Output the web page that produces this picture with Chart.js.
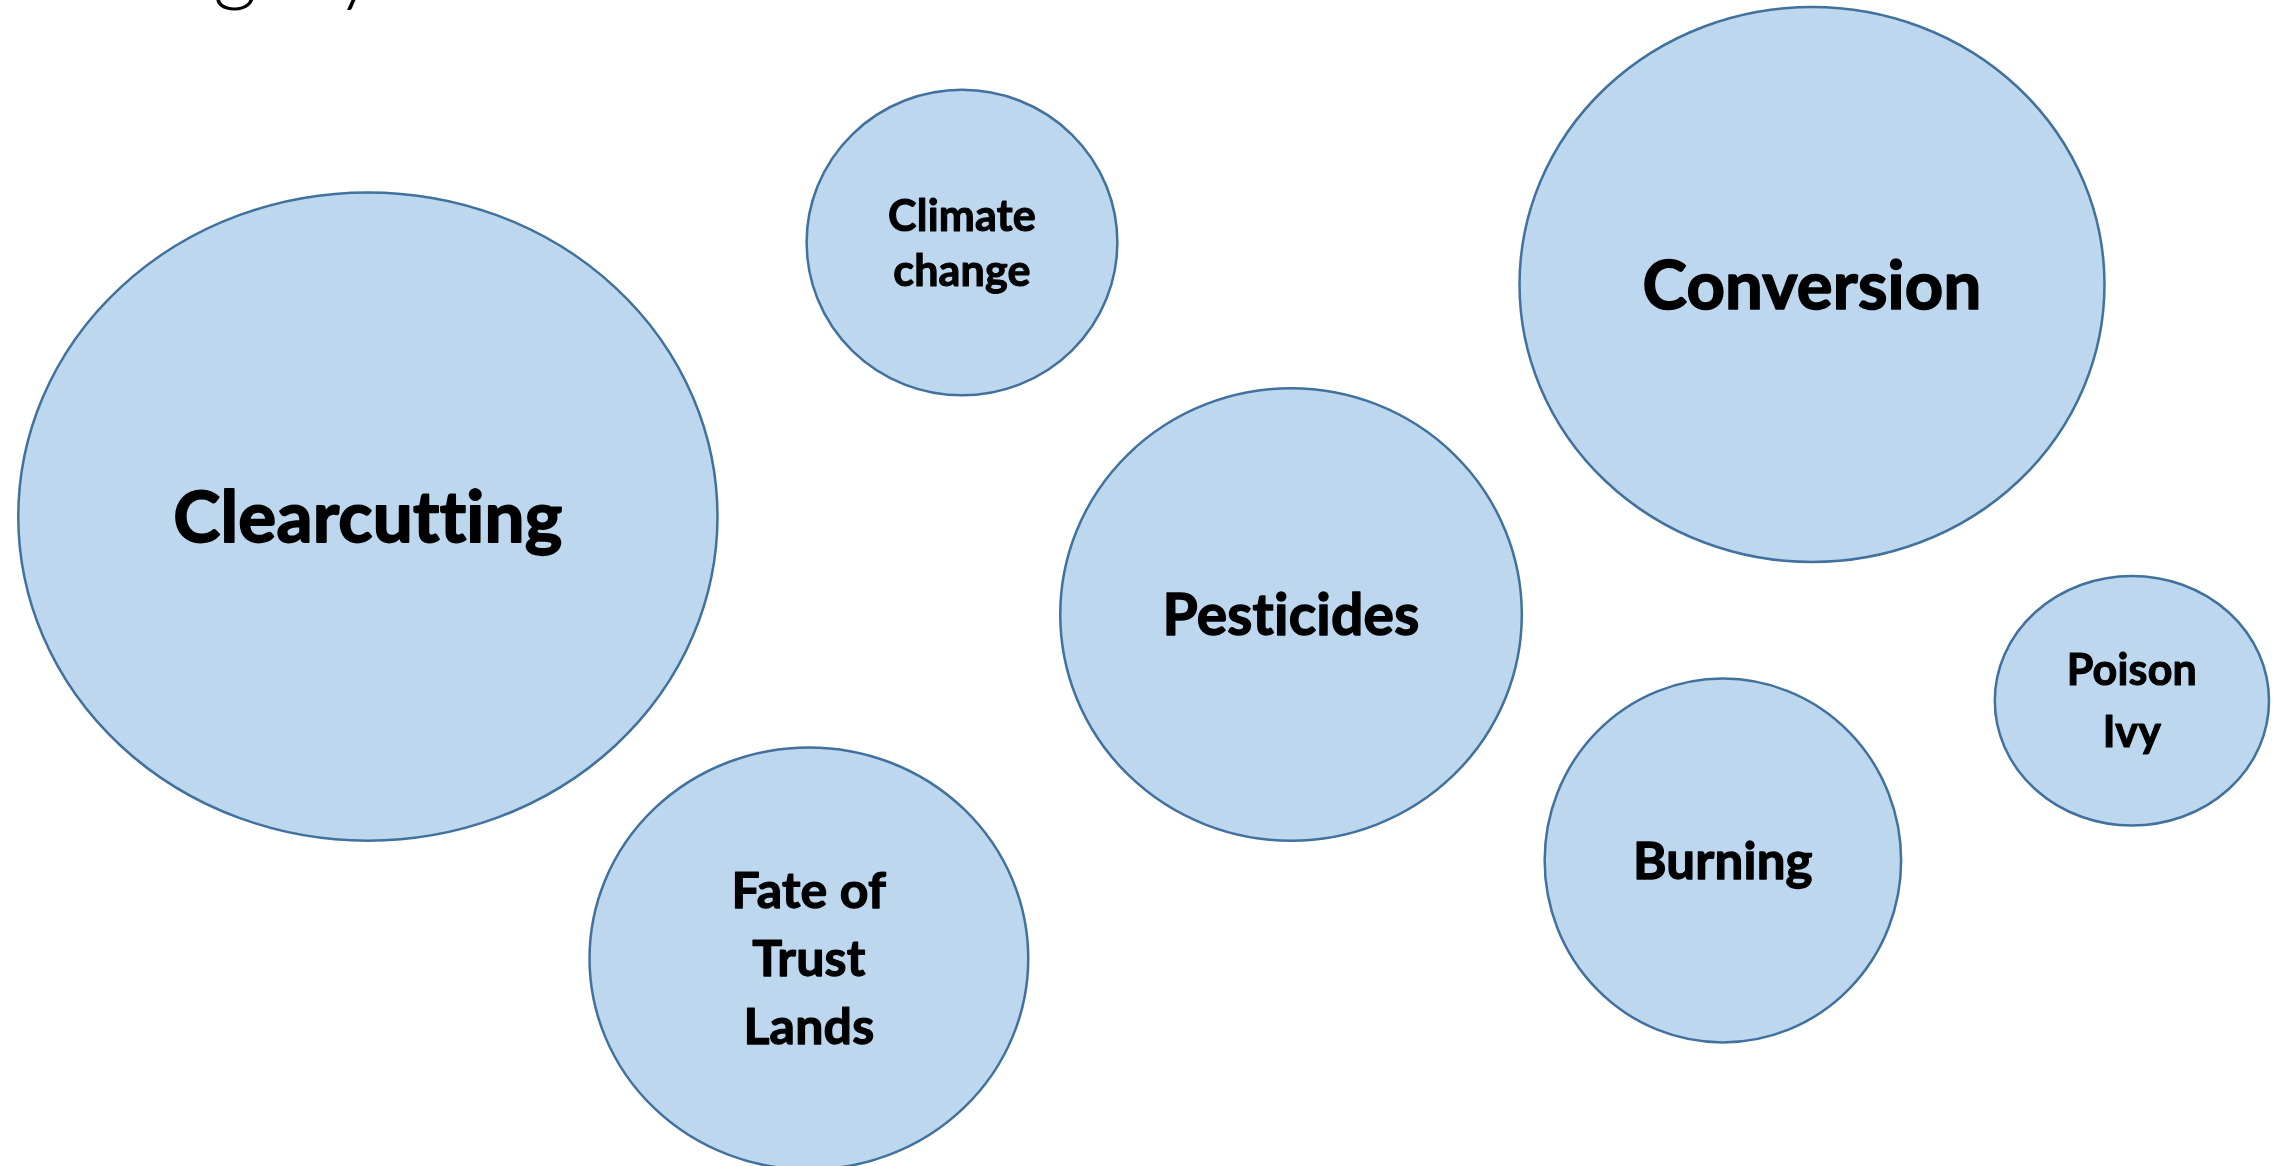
<!DOCTYPE html>
<html>
<head>
<meta charset="utf-8">
<script src="https://cdn.jsdelivr.net/npm/chart.js@4.4.1/dist/chart.umd.min.js"></script>
<style>
  html, body { margin: 0; padding: 0; background: #fff; overflow: hidden; }
  #wrap { width: 2285px; height: 1166px; position: relative; }
</style>
</head>
<body>
<div id="wrap"><canvas id="chart"></canvas></div>
<script>
'use strict';

// ── Data (plot units 0–100) ────────────────────────────────────
const titleText = 'Category';
const topics  = [['Clearcutting'], ['Climate', 'change'], ['Conversion'], ['Pesticides'],
                 ['Fate of', 'Trust', 'Lands'], ['Burning'], ['Poison', 'Ivy']];
const centerX = [16.1, 42.1, 79.3, 56.5, 35.4, 75.4, 93.3];
const centerY = [55.7, 79.2, 75.6, 47.3, 17.8, 26.2, 39.9];
const spreadX = [15.3, 6.8, 12.8, 10.1, 9.6, 7.8, 6.0];
const spreadY = [27.8, 13.1, 23.8, 19.4, 18.1, 15.6, 10.7];

// ── Label styling ──────────────────────────────────────────────
const labelSize  = [71, 43, 67, 57, 50, 51, 43];
const labelPitch = [0, 55, 0, 0, 68, 0, 62];

const FONT = "Lato, 'Open Sans', sans-serif";

const ellipsePlugin = {
  id: 'ellipses',
  afterDraw(chart) {
    const { ctx, scales: { x, y } } = chart;

    // title (only its descenders fall inside the picture)
    ctx.save();
    ctx.font = `300 86px ${FONT}`;
    ctx.fillStyle = '#000';
    ctx.textBaseline = 'alphabetic';
    const pre = ctx.measureText('Cate').width;
    ctx.fillText(titleText, 213 - pre, -5);
    ctx.restore();

    chart.data.datasets[0].data.forEach((p, i) => {
      const cx = x.getPixelForValue(p.x);
      const cy = y.getPixelForValue(p.y);
      const rx = x.getPixelForValue(p.x + p.rx) - cx;
      const ry = cy - y.getPixelForValue(p.y + p.ry);

      ctx.save();
      ctx.beginPath();
      ctx.ellipse(cx, cy, rx, ry, 0, 0, Math.PI * 2);
      ctx.fillStyle = '#BDD7EE';
      ctx.fill();
      ctx.lineWidth = 2.5;
      ctx.strokeStyle = '#41719C';
      ctx.stroke();

      const lines = p.lines;
      const size = labelSize[i];
      const pitch = labelPitch[i];
      const cap = size * 0.72;
      ctx.font = `bold ${size}px ${FONT}`;
      ctx.letterSpacing = '0.2px';   // keeps Lato from joining "ti"
      ctx.fillStyle = '#000';
      ctx.strokeStyle = '#000';
      ctx.lineWidth = size / 40;
      ctx.lineJoin = 'round';
      ctx.textAlign = 'center';
      ctx.textBaseline = 'alphabetic';
      let base = cy - (lines.length - 1) * pitch / 2 + cap / 2;
      lines.forEach(t => {
        ctx.fillText(t, cx, base);
        ctx.strokeText(t, cx, base);
        base += pitch;
      });
      ctx.restore();
    });
  }
};

const points = topics.map((t, i) => ({
  x: centerX[i], y: centerY[i], rx: spreadX[i], ry: spreadY[i], lines: t
}));

new Chart(document.getElementById('chart'), {
  type: 'scatter',
  data: {
    datasets: [{
      label: titleText,
      data: points,
      pointRadius: 0,
      pointHoverRadius: 0
    }]
  },
  options: {
    responsive: true,
    maintainAspectRatio: false,
    animation: false,
    events: [],
    layout: { padding: 0 },
    plugins: { legend: { display: false }, tooltip: { enabled: false } },
    scales: {
      x: { display: false, min: 0, max: 100 },
      y: { display: false, min: 0, max: 100 }
    }
  },
  plugins: [ellipsePlugin]
});
</script>
</body>
</html>
